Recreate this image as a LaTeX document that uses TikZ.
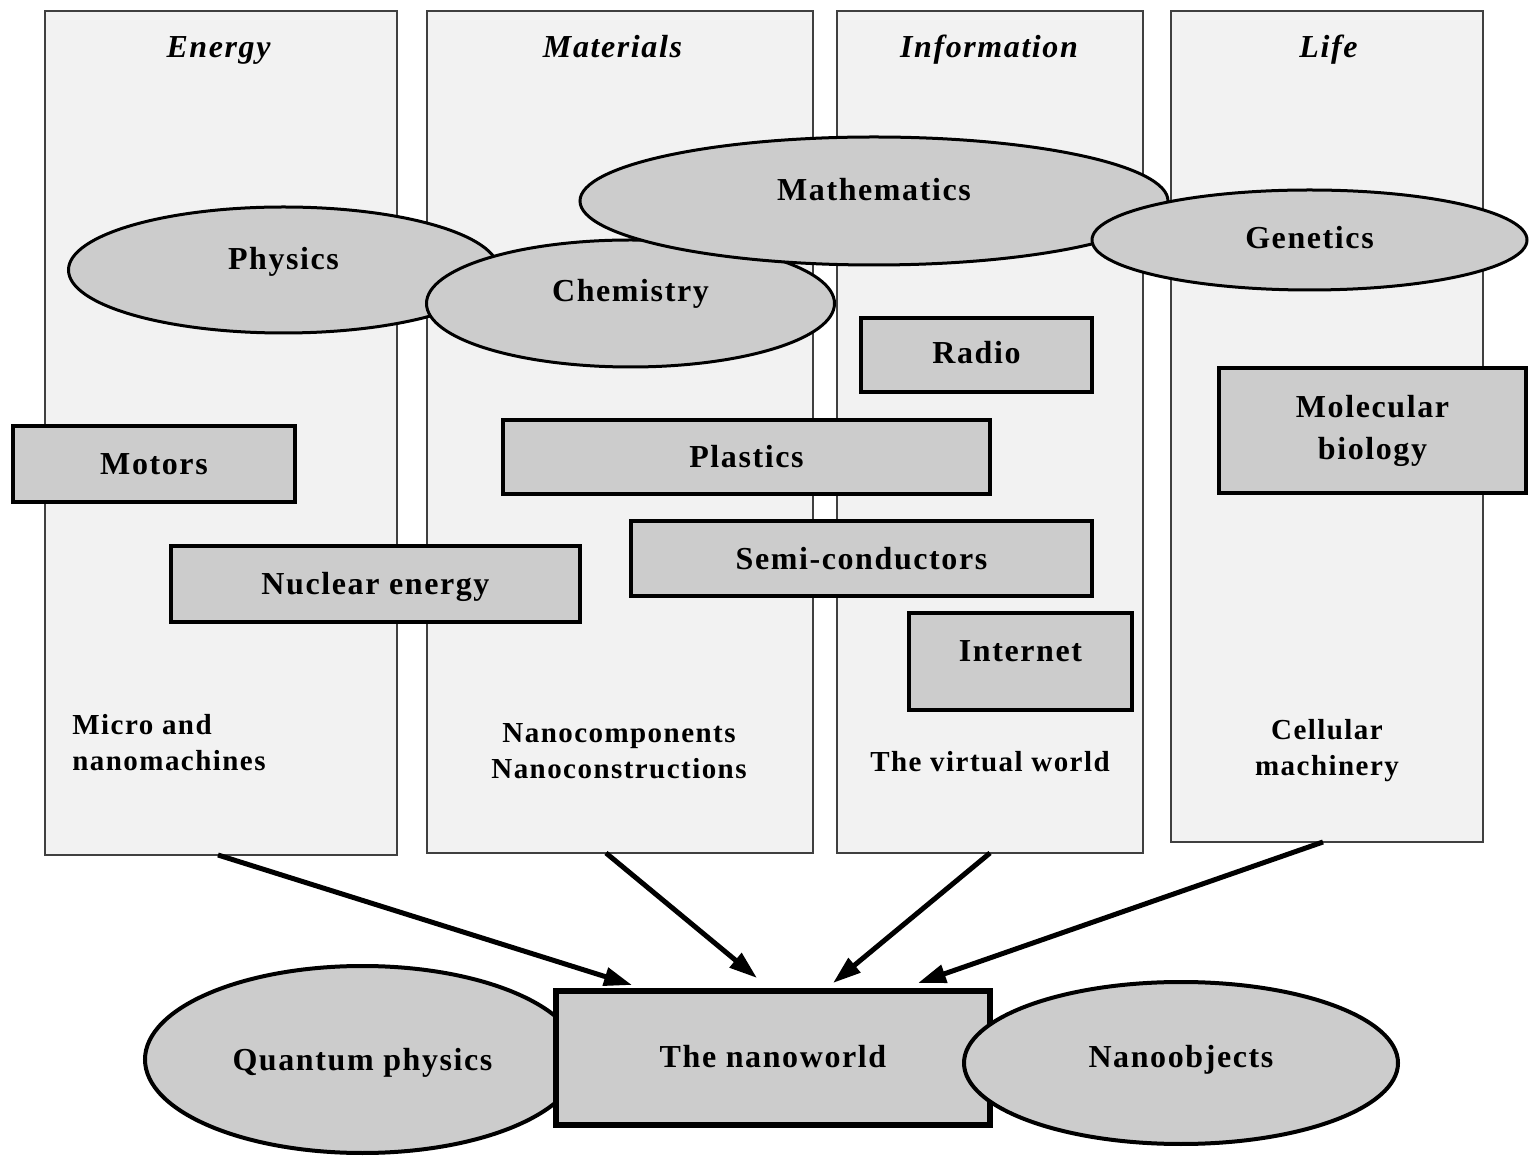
\documentclass[tikz,border=0pt]{standalone}
\usepackage{fontspec}
\newfontfamily\lbl{Liberation Serif}[LetterSpace=5]
\usetikzlibrary{shapes.geometric,arrows.meta,calc}
\definecolor{boxgray}{HTML}{CCCCCC}
\definecolor{colfill}{HTML}{F2F2F2}
\definecolor{colline}{HTML}{404040}
\begin{document}
\begin{tikzpicture}[x=0.5pt,y=-0.5pt,
 column/.style={rectangle, draw=colline, fill=colfill, line width=1pt, inner sep=0pt, outer sep=0pt},
 coltitle/.style={font=\lbl\fontsize{16}{19}\selectfont\bfseries\itshape, inner sep=0pt, text height=11pt, text depth=0pt},
 oval/.style={ellipse, draw=black, fill=boxgray, line width=1.5pt, inner sep=0pt,
   font=\lbl\fontsize{16}{19}\selectfont\bfseries, text height=11pt, text depth=0pt},
 field/.style={rectangle, draw=black, fill=boxgray, line width=1.75pt, inner sep=0pt,
   font=\lbl\fontsize{16}{21}\selectfont\bfseries, text height=11pt, text depth=0pt},
 note/.style={font=\lbl\fontsize{14.5}{18}\selectfont\bfseries, inner sep=0pt},
 flow/.style={line width=2.5pt, -{Triangle[length=14pt,width=9pt]}}
]
\useasboundingbox[fill=white] (0,0) rectangle (1532,1159);

% columns
\node[column, minimum width=176pt, minimum height=422pt] (energy) at (221,433) {};
\node[column, minimum width=193pt, minimum height=421pt] (materials) at (620,432) {};
\node[column, minimum width=153pt, minimum height=421pt] (information) at (990,432) {};
\node[column, minimum width=156pt, minimum height=415.5pt] (life) at (1327,426.5) {};

\node[coltitle] (tEnergy) at (218.5,47) {Energy};
\node[coltitle] (tMaterials) at (612.5,47) {Materials};
\node[coltitle] (tInformation) at (989,47) {Information};
\node[coltitle] (tLife) at (1328.5,47) {Life};

% notes at bottom of columns
\node[note, anchor=west, align=left] (nMicro) at (72,743) {Micro and\\nanomachines};
\node[note, align=center] (nNano) at (619,751.5) {Nanocomponents\\Nanoconstructions};
\node[note, text height=10pt, text depth=0pt] (nVirtual) at (990,762) {The virtual world};
\node[note, align=center] (nCell) at (1327,751) {Cellular\\machinery};

% ellipses
\node[oval, minimum width=215pt, minimum height=63pt, text depth=11pt] (physics) at (283.5,270) {Physics};
\node[oval, minimum width=204pt, minimum height=63.5pt, text depth=12.5pt] (chemistry) at (630.5,303.5) {Chemistry};
\node[oval, minimum width=294pt, minimum height=64pt, text depth=11pt] (math) at (874,201) {Mathematics};
\node[oval, minimum width=217.5pt, minimum height=50pt, text depth=2.5pt] (genetics) at (1309.5,240) {Genetics};

% rectangles
\node[field, minimum width=141pt, minimum height=38pt] (motors) at (154,464) {Motors};
\node[field, minimum width=204.5pt, minimum height=38pt] (nuclear) at (375.5,584) {Nuclear energy};
\node[field, minimum width=243.5pt, minimum height=37pt] (plastics) at (746.5,457) {Plastics};
\node[field, minimum width=230.5pt, minimum height=37.5pt] (semi) at (861.5,558.5) {Semi-conductors};
\node[field, minimum width=115.5pt, minimum height=37pt, text depth=2.5pt] (radio) at (976.5,355) {Radio};
\node[field, minimum width=111.5pt, minimum height=48.5pt, text depth=10.5pt] (internet) at (1020.5,661.5) {Internet};
\node[field, minimum width=153.5pt, minimum height=62.5pt, align=center, text height=, text depth=] (molbio) at (1372.5,430.5) {Molecular\\biology};

% bottom
\node[oval, line width=2pt, minimum width=217.5pt, minimum height=93.5pt] (quantum) at (362.5,1059.5) {Quantum physics};
\node[field, line width=3pt, minimum width=217pt, minimum height=67pt, text depth=2pt] (nano) at (773,1058) {The nanoworld};
\node[oval, line width=2pt, minimum width=217pt, minimum height=81pt, text depth=7pt] (objects) at (1181,1063) {Nanoobjects};

% arrow ends
\coordinate (e1) at ($(nano.north)+(-141,-3)$);
\coordinate (e2) at ($(nano.north)+(-16,-10)$);
\coordinate (e3) at ($(nano.north)+(60,-5)$);
\coordinate (e4) at ($(nano.north)+(145,-5)$);
\coordinate (s1) at ($(energy.south)+(-3,0)$);
\coordinate (s2) at ($(materials.south)+(-14,0)$);
\coordinate (s4) at ($(life.south)+(-4,0)$);

\draw[flow] (s1) -- (e1);
\draw[flow] (s2) -- (e2);
\draw[flow] (information.south) -- (e3);
\draw[flow] (s4) -- (e4);
\end{tikzpicture}
\end{document}
